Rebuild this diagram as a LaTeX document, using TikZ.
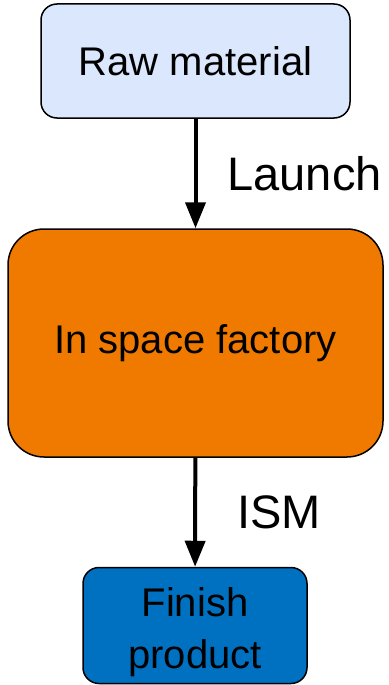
\documentclass[tikz,border=0pt]{standalone}
\usepackage{fontspec}
\setmainfont{Liberation Sans}
\usetikzlibrary{arrows.meta}
\begin{document}
\begin{tikzpicture}[x=1pt,y=1pt]
  % Colors
  \definecolor{rawcolor}{RGB}{218,231,252}
  \definecolor{factorycolor}{RGB}{240,122,0}
  \definecolor{productcolor}{RGB}{0,112,192}

  % Styles
  \tikzstyle{box}=[draw=black,line width=1.5pt,align=center,inner sep=0pt,
    font=\fontsize{40}{52}\selectfont]
  \tikzstyle{flow}=[line width=4pt,-{Triangle[length=26pt,width=20pt]}]
  \tikzstyle{step label}=[right,inner sep=0pt,font=\fontsize{47}{50}\selectfont]

  % The graphic
  \useasboundingbox (0,0) rectangle (388,-685);

  \node[box,fill=rawcolor,rounded corners=16pt,
    minimum width=309pt,minimum height=114pt] (raw) at (195.5,-61)
    {Raw material};

  \node[box,fill=factorycolor,rounded corners=36pt,
    minimum width=375pt,minimum height=228pt] (factory) at (195.5,-343)
    {In space factory};

  \node[box,fill=productcolor,rounded corners=16pt,
    minimum width=224pt,minimum height=116pt,
    label={[align=center,inner sep=0pt,yshift=-7pt,
      font=\fontsize{40}{52}\selectfont]center:Finish\\product}]
    (product) at (195,-625.5) {};

  \draw[flow] (raw) -- node[step label,xshift=30pt] {Launch} (factory);
  \draw[flow] (factory) -- node[step label,xshift=40pt] {ISM} (product);
\end{tikzpicture}
\end{document}
